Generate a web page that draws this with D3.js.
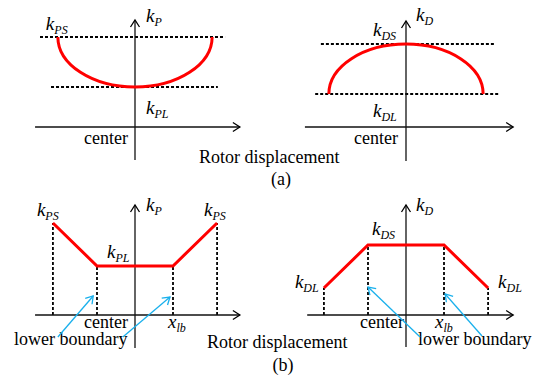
<!DOCTYPE html>
<html>
<head>
<meta charset="utf-8">
<script src="https://cdn.jsdelivr.net/npm/d3@7"></script>
</head>
<body style="margin:0;background:#fff">
<svg id="fig" width="544" height="378"></svg>
<script>
// Stiffness profiles against rotor displacement, in normalised units:
// displacement is scaled so that the lower boundary sits at x = ±1.

// (a) smooth profiles
const smoothHalfWidth = [2.03, 2.03];          // kP curve, kD curve
const kPSmooth = [4.5, 2.0];                   // [kPS, kPL]
const kDSmooth = [4.15, 1.65];                 // [kDS, kDL]
const guideSpanP = [[-2.5, 2.37], [-2.21, 2.18]];   // dashed level lines (kPS, kPL)
const guideSpanD = [[-2.24, 2.32], [-2.39, 2.45]];  // dashed level lines (kDS, kDL)

// (b) piecewise-linear profiles
const breakpoints = [-2.16, -1, 1, 2.16];      // outer edge, -x_lb, x_lb, outer edge
const kPPiecewise = [4.6, 2.45, 2.45, 4.6];
const kDPiecewise = [1.35, 3.5, 3.5, 1.35];

const RED = "#ff0000";
const BLUE = "#19b0ec";
const FONT = "Liberation Serif";

const svg = d3.select("#fig");
const defs = svg.append("defs");

function chevron(id, color, w) {
  defs.append("marker")
    .attr("id", id)
    .attr("markerUnits", "userSpaceOnUse")
    .attr("viewBox", "-10 -6 12 12")
    .attr("refX", 0).attr("refY", 0)
    .attr("markerWidth", 12).attr("markerHeight", 12)
    .attr("orient", "auto")
    .append("path")
    .attr("d", "M-7,-4.5L0,0L-7,4.5")
    .attr("fill", "none")
    .attr("stroke", color)
    .attr("stroke-width", w);
}
chevron("axisHead", "#000", 1.3);
chevron("noteHead", BLUE, 1.3);

// one set of scales per sub-plot, origin where the axes cross
function makePanel(ox, oy) {
  const x = d3.scaleLinear().domain([0, 1]).range([ox, ox + 38]);
  const y = d3.scaleLinear().domain([0, 1]).range([oy, oy - 20]);
  const g = svg.append("g");
  return { x, y, g, ox, oy };
}

function drawAxes(p, xSpan, ySpan) {
  p.g.append("line")
    .attr("x1", p.x(xSpan[0])).attr("x2", p.x(xSpan[1]))
    .attr("y1", p.y(0)).attr("y2", p.y(0))
    .attr("stroke", "#111").attr("stroke-width", 1.3)
    .attr("marker-end", "url(#axisHead)");
  p.g.append("line")
    .attr("x1", p.x(0)).attr("x2", p.x(0))
    .attr("y1", p.y(ySpan[0])).attr("y2", p.y(ySpan[1]))
    .attr("stroke", "#111").attr("stroke-width", 1.3)
    .attr("marker-end", "url(#axisHead)");
}

function dashed(p, x1, y1, x2, y2) {
  p.g.append("line")
    .attr("x1", p.x(x1)).attr("y1", p.y(y1))
    .attr("x2", p.x(x2)).attr("y2", p.y(y2))
    .attr("stroke", "#000").attr("stroke-width", 1.8)
    .attr("stroke-dasharray", "3,2");
}

// italic k (or x) with a smaller italic subscript
function symbol(g, x, y, main, sub) {
  const t = g.append("text")
    .attr("x", x).attr("y", y)
    .attr("font-family", FONT)
    .style("font-family", FONT)
    .attr("font-style", "italic");
  t.append("tspan").attr("font-size", 19).text(main);
  t.append("tspan").attr("font-size", 12).attr("dy", 3.5).text(sub);
  return t;
}

function plain(g, x, y, s, anchor) {
  g.append("text")
    .attr("x", x).attr("y", y)
    .attr("font-family", FONT)
    .style("font-family", FONT)
    .attr("text-anchor", anchor || "start")
    .attr("font-size", 18)
    .text(s);
}

function note(p, from, to) {
  p.g.append("line")
    .attr("x1", p.x(from[0])).attr("y1", p.y(from[1]))
    .attr("x2", p.x(to[0])).attr("y2", p.y(to[1]))
    .attr("stroke", BLUE).attr("stroke-width", 1.3)
    .attr("marker-end", "url(#noteHead)");
}

// half-ellipse through both end points at level `base`, reaching `apex` at x = 0
function halfEllipse(p, halfW, base, apex) {
  const rx = p.x(halfW) - p.x(0);
  const ry = Math.abs(p.y(apex) - p.y(base));
  const sweep = apex > base ? 1 : 0;
  p.g.append("path")
    .attr("d", `M${p.x(-halfW)},${p.y(base)} A${rx},${ry} 0 0 ${sweep} ${p.x(halfW)},${p.y(base)}`)
    .attr("fill", "none")
    .attr("stroke", RED).attr("stroke-width", 3);
}

const line = (p) => d3.line().x(d => p.x(d[0])).y(d => p.y(d[1]));

// ---------- (a) left: kP ----------
{
  const p = makePanel(135, 127);
  dashed(p, guideSpanP[0][0], kPSmooth[0], guideSpanP[0][1], kPSmooth[0]);
  dashed(p, guideSpanP[1][0], kPSmooth[1], guideSpanP[1][1], kPSmooth[1]);
  drawAxes(p, [-2.63, 2.76], [-1.65, 5.35]);
  halfEllipse(p, smoothHalfWidth[0], kPSmooth[0], kPSmooth[1]);
  symbol(p.g, p.x(-smoothHalfWidth[0]) - 12, p.y(kPSmooth[0]) - 7, "k", "PS");
  symbol(p.g, p.x(0) + 11, 22, "k", "P");
  symbol(p.g, p.x(0) + 11, p.y(kPSmooth[1]) + 27, "k", "PL");
  plain(p.g, p.x(0) - 7, p.oy + 17, "center", "end");
}

// ---------- (a) right: kD ----------
{
  const p = makePanel(406, 127);
  dashed(p, guideSpanD[0][0], kDSmooth[0], guideSpanD[0][1], kDSmooth[0]);
  dashed(p, guideSpanD[1][0], kDSmooth[1], guideSpanD[1][1], kDSmooth[1]);
  drawAxes(p, [-2.66, 2.82], [-1.7, 5.3]);
  halfEllipse(p, smoothHalfWidth[1], kDSmooth[1], kDSmooth[0]);
  symbol(p.g, p.x(0) + 10, 21, "k", "D");
  symbol(p.g, p.x(0) - 33, p.y(kDSmooth[0]) - 8, "k", "DS");
  symbol(p.g, p.x(0) - 33, p.y(kDSmooth[1]) + 23, "k", "DL");
  plain(p.g, p.x(0) - 8, p.oy + 17, "center", "end");
}

plain(svg, 199, 163, "Rotor displacement");
plain(svg, 281, 185, "(a)", "middle");

// ---------- (b) left: kP ----------
{
  const p = makePanel(135, 315);
  const pts = breakpoints.map((b, i) => [b, kPPiecewise[i]]);
  pts.forEach(d => dashed(p, d[0], 0, d[0], d[1]));
  drawAxes(p, [-2.63, 2.76], [-1.65, 5.5]);
  p.g.append("path").datum(pts).attr("d", line(p))
    .attr("fill", "none").attr("stroke", RED).attr("stroke-width", 3)
    .attr("stroke-linejoin", "miter");
  symbol(p.g, p.x(breakpoints[0]) - 16, p.y(kPPiecewise[0]) - 7, "k", "PS");
  symbol(p.g, p.x(breakpoints[3]) - 13, p.y(kPPiecewise[3]) - 7, "k", "PS");
  symbol(p.g, p.x(breakpoints[1]) + 10, p.y(kPPiecewise[1]) - 8, "k", "PL");
  symbol(p.g, p.x(0) + 11, 211, "k", "P");
  plain(p.g, p.x(0) - 7, p.oy + 13, "center", "end");
  symbol(p.g, p.x(breakpoints[2]) - 5, p.oy + 13, "x", "lb");
  plain(p.g, 14, 345, "lower boundary");
  note(p, [-2.03, -1.1], [-1.1, 0.95]);
  note(p, [-0.32, -1.1], [0.92, 0.9]);
}

// ---------- (b) right: kD ----------
{
  const p = makePanel(406, 315);
  const pts = breakpoints.map((b, i) => [b, kDPiecewise[i]]);
  pts.forEach(d => dashed(p, d[0], 0, d[0], d[1]));
  drawAxes(p, [-2.6, 2.82], [-1.6, 5.5]);
  p.g.append("path").datum(pts).attr("d", line(p))
    .attr("fill", "none").attr("stroke", RED).attr("stroke-width", 3)
    .attr("stroke-linejoin", "miter");
  symbol(p.g, p.x(breakpoints[0]) - 29, p.y(kDPiecewise[0]), "k", "DL");
  symbol(p.g, p.x(breakpoints[3]) + 10, p.y(kDPiecewise[3]), "k", "DL");
  symbol(p.g, p.x(breakpoints[1]) + 4, p.y(kDPiecewise[1]) - 10, "k", "DS");
  symbol(p.g, p.x(0) + 10, 211, "k", "D");
  plain(p.g, p.x(0) - 2, p.oy + 13, "center", "end");
  symbol(p.g, p.x(breakpoints[2]) - 9, p.oy + 13, "x", "lb");
  plain(p.g, 418, 345, "lower boundary");
  note(p, [0.37, -1.1], [-1.0, 1.4]);
  note(p, [2.0, -1.05], [1.03, 1.05]);
}

plain(svg, 207, 348, "Rotor displacement");
plain(svg, 283, 371, "(b)", "middle");
</script>
</body>
</html>
